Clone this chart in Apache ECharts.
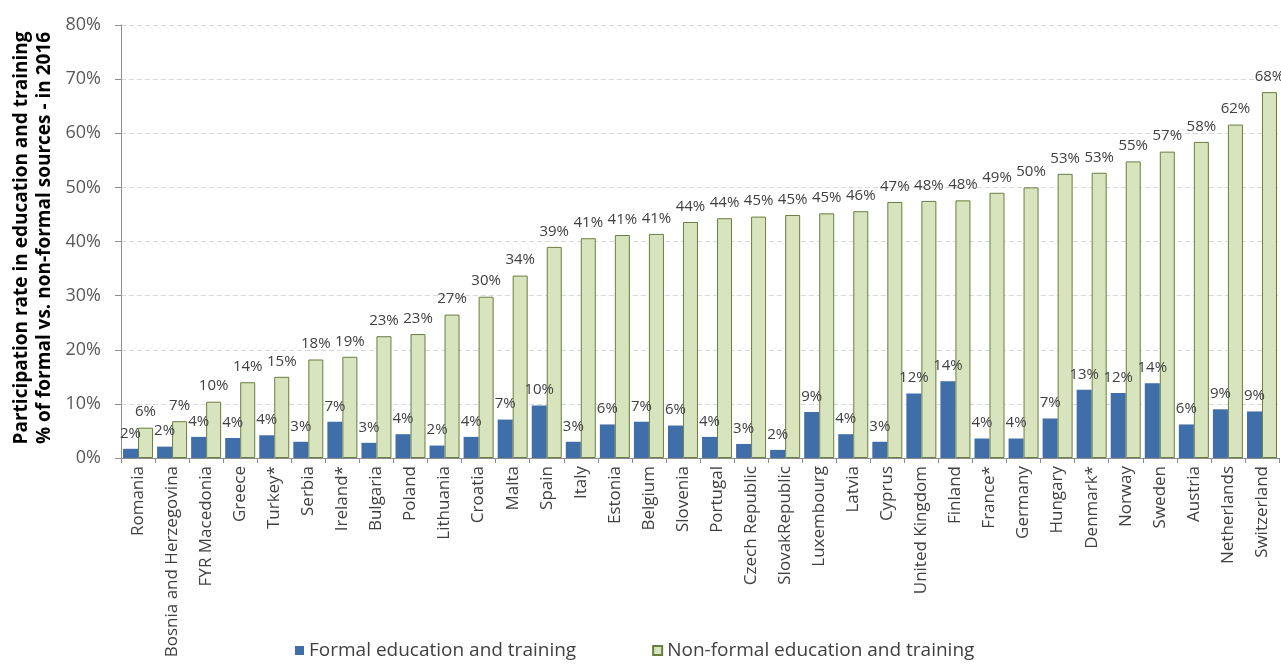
<!DOCTYPE html>
<html>
<head>
<meta charset="utf-8">
<title>Participation rate in education and training</title>
<script src="https://cdn.jsdelivr.net/npm/echarts@6/dist/echarts.min.js"></script>
<style>
  html, body { margin: 0; padding: 0; background: #ffffff; }
  #chart { width: 1281px; height: 666px; }
</style>
</head>
<body>
<div id="chart"></div>
<script>
// Countries, ordered by non-formal participation
const countries = [
  'Romania', 'Bosnia and Herzegovina', 'FYR Macedonia', 'Greece', 'Turkey*',
  'Serbia', 'Ireland*', 'Bulgaria', 'Poland', 'Lithuania', 'Croatia', 'Malta',
  'Spain', 'Italy', 'Estonia', 'Belgium', 'Slovenia', 'Portugal',
  'Czech Republic', 'SlovakRepublic', 'Luxembourg', 'Latvia', 'Cyprus',
  'United Kingdom', 'Finland', 'France*', 'Germany', 'Hungary', 'Denmark*',
  'Norway', 'Sweden', 'Austria', 'Netherlands', 'Switzerland'
];

// Participation rate (%) from formal education and training
const formalValues = [
  1.7, 2.1, 3.9, 3.7, 4.2, 3.0, 6.7, 2.8, 4.4, 2.3, 3.9, 7.1,
  9.7, 3.0, 6.2, 6.7, 6.0, 3.9, 2.6, 1.5, 8.5, 4.4, 3.0,
  11.9, 14.2, 3.6, 3.6, 7.3, 12.6, 12.0, 13.8, 6.2, 9.0, 8.6
];

// Participation rate (%) from non-formal education and training
const nonFormalValues = [
  5.6, 6.8, 10.4, 14.0, 15.0, 18.2, 18.7, 22.5, 22.9, 26.5, 29.8, 33.7,
  39.0, 40.6, 41.2, 41.4, 43.6, 44.3, 44.6, 44.9, 45.2, 45.6, 47.3,
  47.5, 47.6, 49.0, 50.0, 52.5, 52.7, 54.8, 56.6, 58.4, 61.6, 67.6
];

const seriesNames = ['Formal education and training', 'Non-formal education and training'];
const yTickMax = 80;
const yTickStep = 10;
const axisTitleLines = [
  'Participation rate in education and training',
  '% of formal vs. non-formal sources - in 2016'
];

const FONT = '"Open Sans", "Noto Sans", sans-serif';
const TEXT = '#404040';

const chart = echarts.init(document.getElementById('chart'), null, { renderer: 'canvas' });

const valueLabel = {
  show: true,
  position: 'top',
  distance: 8,
  fontFamily: FONT,
  fontSize: 15,
  color: TEXT,
  formatter: p => Math.round(p.value) + '%'
};

chart.setOption({
  animation: false,
  backgroundColor: '#ffffff',
  grid: { left: 121, right: 2, top: 25, bottom: 208, containLabel: false },
  legend: {
    data: seriesNames,
    left: 290,
    top: 636,
    icon: 'rect',
    itemWidth: 9,
    itemHeight: 9,
    itemGap: 76,
    textStyle: { fontFamily: FONT, fontSize: 19, color: TEXT }
  },
  graphic: [{
    type: 'text',
    x: 33,
    y: 238,
    rotation: Math.PI / 2,
    style: {
      text: axisTitleLines.join('\n'),
      fontFamily: FONT,
      fontSize: 19,
      fontWeight: 'bold',
      lineHeight: 23,
      fill: '#000000',
      align: 'center',
      verticalAlign: 'middle'
    }
  }],
  xAxis: {
    type: 'category',
    data: countries,
    axisLine: { show: true, lineStyle: { color: '#8c8c8c', width: 1 } },
    axisTick: { show: true, length: 5, lineStyle: { color: '#8c8c8c' } },
    axisLabel: {
      rotate: 90,
      interval: 0,
      margin: 8,
      fontFamily: FONT,
      fontSize: 17,
      color: TEXT
    },
    splitLine: { show: false }
  },
  yAxis: {
    type: 'value',
    min: 0,
    max: yTickMax,
    interval: yTickStep,
    axisLine: { show: true, lineStyle: { color: '#8c8c8c', width: 1 } },
    axisTick: { show: true, length: 6, lineStyle: { color: '#8c8c8c' } },
    axisLabel: {
      formatter: '{value}%',
      margin: 20,
      fontFamily: FONT,
      fontSize: 18,
      color: '#595959'
    },
    splitLine: { show: true, lineStyle: { color: '#d9d9d9', type: [5, 3], width: 1 } }
  },
  series: [
    {
      name: seriesNames[0],
      type: 'bar',
      data: formalValues,
      barWidth: 15,
      barGap: '0%',
      itemStyle: { color: '#3f6ea8' },
      label: valueLabel
    },
    {
      name: seriesNames[1],
      type: 'bar',
      data: nonFormalValues,
      barWidth: 15,
      itemStyle: { color: '#d7e4bd', borderColor: '#6b7d3f', borderWidth: 1 },
      label: valueLabel
    }
  ]
});
</script>
</body>
</html>
